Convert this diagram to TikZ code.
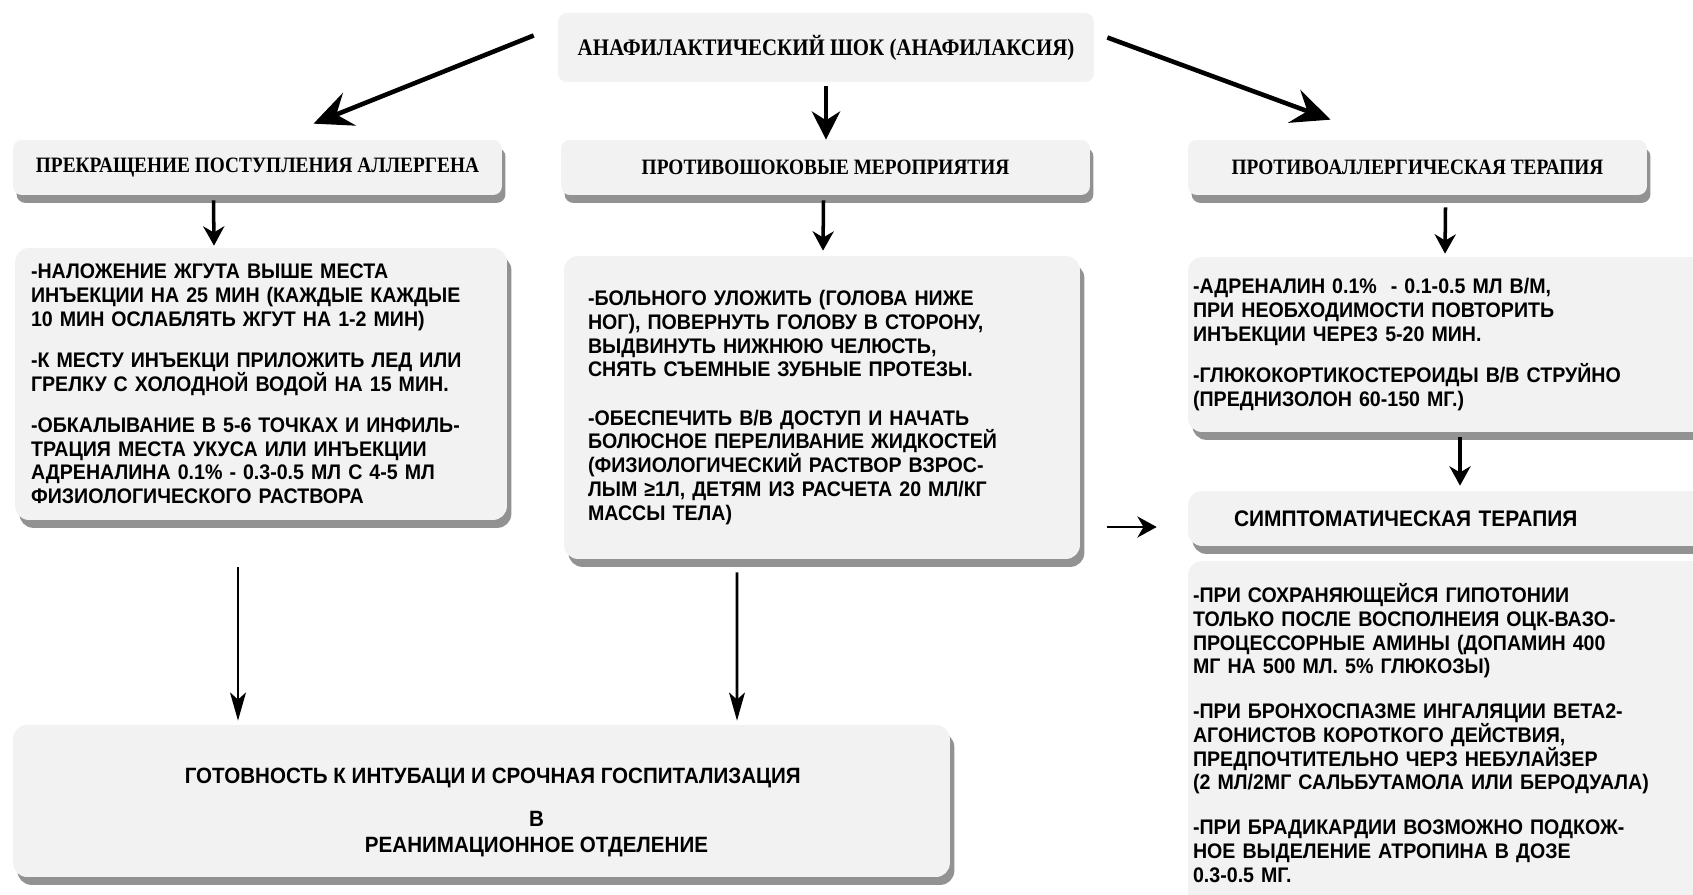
\documentclass[tikz,border=0pt]{standalone}
\usepackage{fontspec}
\setmainfont{Liberation Serif}
\newfontfamily\headfont[FakeStretch=0.88]{Liberation Serif}
\newfontfamily\bodyfont[FakeStretch=0.93]{Liberation Sans}
\usetikzlibrary{arrows.meta, shadows, calc}
\definecolor{boxgray}{HTML}{F2F2F2}
\tikzset{
    title/.style={rectangle, rounded corners=5pt, fill=boxgray, align=center, font=\headfont\fontsize{12.5}{14}\selectfont\bfseries},
    header/.style={title, drop shadow={shadow xshift=2pt, shadow yshift=-4.5pt, fill=black!85}, minimum height=1.1cm},
    panel/.style={rectangle, rounded corners=8pt, fill=boxgray, drop shadow={shadow xshift=2.5pt, shadow yshift=-4.5pt, fill=black!85}, align=left, inner ysep=0pt, font=\bodyfont\fontsize{12}{13.5}\selectfont\bfseries},
    bigarrow/.style={line width=2.6pt, -{Stealth[length=22pt, width=20pt, inset=8pt]}},
    midarrow/.style={line width=2.6pt, -{Stealth[length=16pt, width=16pt, inset=5pt]}},
    arrow/.style={line width=2pt, -{Stealth[length=11pt, width=12pt, inset=3.5pt]}},
    longarrow/.style={line width=1.6pt, -{Stealth[length=16pt, width=9pt, inset=4pt]}}
}
\begin{document}
\begin{tikzpicture}[x=0.02cm, y=-0.02cm]
    \clip (0,0) rectangle (1693,895);
    \fill[white] (0,0) rectangle (1693,895);

    % top and second level
    \node[title, minimum width=10.72cm, minimum height=1.38cm, font=\headfont\fontsize{13.5}{15}\selectfont\bfseries] (shock) at (826,47.5) {АНАФИЛАКТИЧЕСКИЙ ШОК (АНАФИЛАКСИЯ)};
    \node[header, minimum width=9.78cm] (stop) at (257.5,167.5) {ПРЕКРАЩЕНИЕ ПОСТУПЛЕНИЯ АЛЛЕРГЕНА};
    \node[header, minimum width=10.58cm] (antishock) at (825.5,167.5) {ПРОТИВОШОКОВЫЕ МЕРОПРИЯТИЯ};
    \node[header, minimum width=9.18cm] (antiallergy) at (1417.5,167.5) {ПРОТИВОАЛЛЕРГИЧЕСКАЯ ТЕРАПИЯ};

    % measures
    \node[panel, minimum height=5.44cm, inner xsep=0.32cm, text width=9.2cm] (stopsteps) at (261,384) {-НАЛОЖЕНИЕ ЖГУТА ВЫШЕ МЕСТА\\
        ИНЪЕКЦИИ НА 25 МИН (КАЖДЫЕ КАЖДЫЕ\\
        10 МИН ОСЛАБЛЯТЬ ЖГУТ НА 1-2 МИН)\\[10pt]
        -К МЕСТУ ИНЪЕКЦИ ПРИЛОЖИТЬ ЛЕД ИЛИ\\
        ГРЕЛКУ С ХОЛОДНОЙ ВОДОЙ НА 15 МИН.\\[10pt]
        -ОБКАЛЫВАНИЕ В 5-6 ТОЧКАХ И ИНФИЛЬ-\\
        ТРАЦИЯ МЕСТА УКУСА ИЛИ ИНЪЕКЦИИ\\
        АДРЕНАЛИНА 0.1\% - 0.3-0.5 МЛ С 4-5 МЛ\\
        ФИЗИОЛОГИЧЕСКОГО РАСТВОРА};
    \node[panel, minimum height=6.06cm, inner xsep=0.48cm, text width=9.36cm] (shocksteps) at (822,407.5) {-БОЛЬНОГО УЛОЖИТЬ (ГОЛОВА НИЖЕ\\
        НОГ), ПОВЕРНУТЬ ГОЛОВУ В СТОРОНУ,\\
        ВЫДВИНУТЬ НИЖНЮЮ ЧЕЛЮСТЬ,\\
        СНЯТЬ СЪЕМНЫЕ ЗУБНЫЕ ПРОТЕЗЫ.\\[14pt]
        -ОБЕСПЕЧИТЬ В/В ДОСТУП И НАЧАТЬ\\
        БОЛЮСНОЕ ПЕРЕЛИВАНИЕ ЖИДКОСТЕЙ\\
        (ФИЗИОЛОГИЧЕСКИЙ РАСТВОР ВЗРОС-\\
        ЛЫМ ≥1Л, ДЕТЯМ ИЗ РАСЧЕТА 20 МЛ/КГ\\
        МАССЫ ТЕЛА)};
    \node[panel, minimum height=3.5cm, inner xsep=0.1cm, text width=10.24cm] (adrenaline) at (1449,344.5) {-АДРЕНАЛИН 0.1\%~ - 0.1-0.5 МЛ В/М,\\
        ПРИ НЕОБХОДИМОСТИ ПОВТОРИТЬ\\
        ИНЪЕКЦИИ ЧЕРЕЗ 5-20 МИН.\\[10pt]
        -ГЛЮКОКОРТИКОСТЕРОИДЫ В/В СТРУЙНО\\
        (ПРЕДНИЗОЛОН 60-150 МГ.)};
    \node[panel, minimum height=1.1cm, inner xsep=0.92cm, text width=8.6cm, font=\bodyfont\fontsize{12.8}{14}\selectfont\bfseries] (symptom) at (1449,518.5) {СИМПТОМАТИЧЕСКАЯ ТЕРАПИЯ};
    \node[panel, minimum height=6.88cm, inner xsep=0.1cm, text width=10.24cm] (symsteps) at (1449,733) {-ПРИ СОХРАНЯЮЩЕЙСЯ ГИПОТОНИИ\\
        ТОЛЬКО ПОСЛЕ ВОСПОЛНЕИЯ ОЦК-ВАЗО-\\
        ПРОЦЕССОРНЫЕ АМИНЫ (ДОПАМИН 400\\
        МГ НА 500 МЛ. 5\% ГЛЮКОЗЫ)\\[12pt]
        -ПРИ БРОНХОСПАЗМЕ ИНГАЛЯЦИИ ВЕТА2-\\
        АГОНИСТОВ КОРОТКОГО ДЕЙСТВИЯ,\\
        ПРЕДПОЧТИТЕЛЬНО ЧЕРЗ НЕБУЛАЙЗЕР\\
        (2 МЛ/2МГ САЛЬБУТАМОЛА ИЛИ БЕРОДУАЛА)\\[12pt]
        -ПРИ БРАДИКАРДИИ ВОЗМОЖНО ПОДКОЖ-\\
        НОЕ ВЫДЕЛЕНИЕ АТРОПИНА В ДОЗЕ\\
        0.3-0.5 МГ.};
    \node[panel, align=center, minimum width=18.74cm, minimum height=3.04cm, font=\bodyfont\fontsize{12.6}{14.5}\selectfont\bfseries] (hospital) at (481.5,801) {\mbox{}\\[7.5pt]
        \hspace*{0.45cm}ГОТОВНОСТЬ К ИНТУБАЦИ И СРОЧНАЯ ГОСПИТАЛИЗАЦИЯ\\[10pt]
        \hspace*{2.2cm}В\\
        \hspace*{2.2cm}РЕАНИМАЦИОННОЕ ОТДЕЛЕНИЕ};

    % arrows
    \draw[bigarrow] ($(shock.west)+(-24,-12)$) -- ($(stop.north)+(56,-16)$);
    \draw[midarrow, shorten <=2pt] (shock.south) -- (shock.south |- antishock.north);
    \draw[bigarrow] ($(shock.east)+(13,-10)$) -- ($(antiallergy.north)+(-87,-20)$);
    \draw[arrow] ($(stop.south)+(-44,5)$) -- ($(stopsteps.north)+(-47,-2)$);
    \draw[arrow] ($(antishock.south)+(-2,5)$) -- ($(shocksteps.north)+(1,-5)$);
    \draw[arrow] ($(antiallergy.south)+(28,12)$) -- ($(adrenaline.north)+(-4,-3)$);
    \draw[arrow] ($(adrenaline.south)+(11,5)$) -- ($(symptom.north)+(11,-5)$);
    \draw[longarrow] ($(stopsteps.south)+(-23,47)$) -- ($(hospital.north)+(-243.5,-4)$);
    \draw[longarrow] ($(shocksteps.south)+(-85,13)$) -- ($(hospital.north)+(255.5,-4)$);
    \draw[arrow, line width=1.4pt] ($(symptom.west)+(-81,8.5)$) -- ($(symptom.west)+(-31,8.5)$);
\end{tikzpicture}
\end{document}
